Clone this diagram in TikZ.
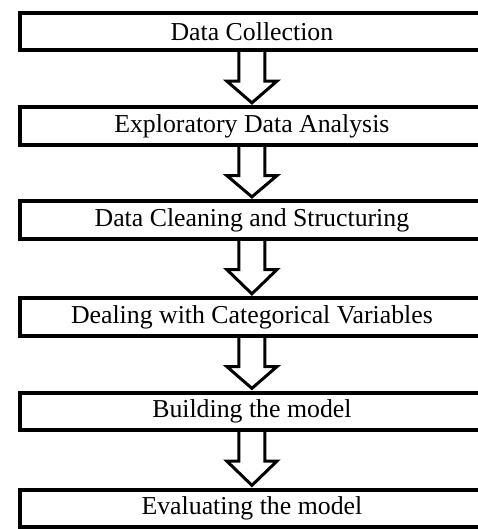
\documentclass[tikz,border=0pt]{standalone}
\usepackage{fontspec}
\setmainfont{Liberation Serif}
\usetikzlibrary{calc}

\tikzset{
  % frame runs on past the right edge of the page; its caption sits 9pt left of its centre
  stage/.style={draw=black, line width=3.8pt, fill=white, anchor=west,
    minimum width=482pt, minimum height=37.5pt, inner sep=0pt,
    label={[font=\fontsize{25.8}{30}\selectfont, xshift=-9pt]center:#1}},
  hollowarrow/.style={draw=black, line width=3pt, miter limit=10}
}

% Hollow block arrow from the bottom of one stage to the top of the next
\newcommand\blockarrow[2]{%
  \draw[hollowarrow]
    ($(#1.south)+(-22,0)$) -- ($(#1.south)+(-22,29)$) --
    ($(#1.south)+(-34,29)$) -- ($(#2.north)+(-9,-2.5)$) --
    ($(#1.south)+(16,29)$) -- ($(#1.south)+(4,29)$) --
    ($(#1.south)+(4,0)$);}

\begin{document}
\begin{tikzpicture}[x=1pt, y=-1pt]
  \useasboundingbox (0,0) rectangle (477,529);

  \node[stage={Data Collection}]                   (s1) at (18,31.5)  {};
  \node[stage={Exploratory Data Analysis}]         (s2) at (18,126)   {};
  \node[stage={Data Cleaning and Structuring}]     (s3) at (18,220)   {};
  \node[stage={Dealing with Categorical Variables}] (s4) at (18,317)   {};
  \node[stage={Building the model}]                (s5) at (18,411.5) {};
  \node[stage={Evaluating the model}]              (s6) at (18,508.5) {};

  \blockarrow{s1}{s2}
  \blockarrow{s2}{s3}
  \blockarrow{s3}{s4}
  \blockarrow{s4}{s5}
  \blockarrow{s5}{s6}
\end{tikzpicture}
\end{document}
